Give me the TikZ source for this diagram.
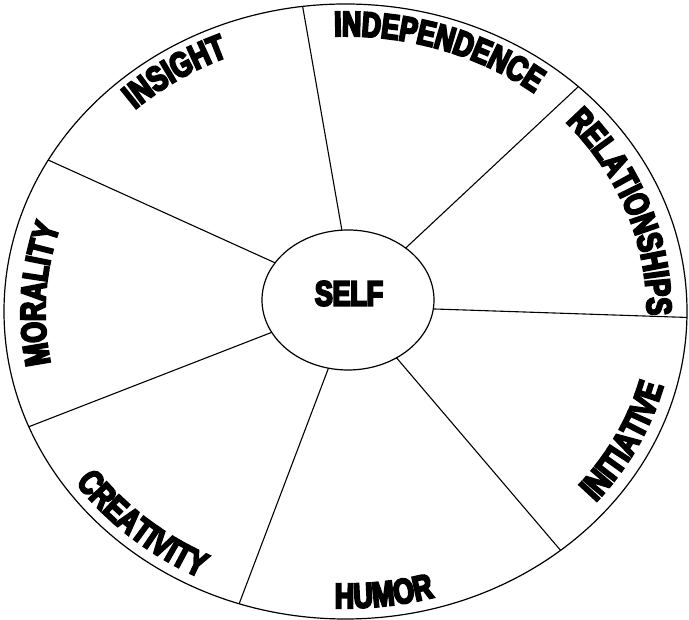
\documentclass[tikz,border=0pt]{standalone}
\usepackage{fontspec}
\usetikzlibrary{shapes.geometric,decorations.text,calc}
\newfontfamily\lblfont{Liberation Sans Bold}[FakeBold=6,FakeStretch=0.76]
\newcommand{\lbl}{\lblfont\fontsize{35}{35}\selectfont}

\begin{document}
\begin{tikzpicture}[x=1pt,y=1pt,
  wheel/.style={draw, ellipse, line width=1.2pt, inner sep=0pt, outer sep=0pt},
  spoke/.style={draw, line width=1.1pt},
  arclabel/.style={decorate, decoration={text along path, text align=center, text={#1}}}
]
\useasboundingbox (0,0) rectangle (689,620);
\node[wheel, minimum width=683pt, minimum height=615pt] (outer) at (345.5,308.5) {};
\node[wheel, minimum width=172pt, minimum height=140pt] (inner) at (348,320) {};
\node[inner sep=0pt] (selflabel) at (349,326.5) {\lbl SELF};

% spokes
\draw[spoke] (inner.95.7) -- (outer.98.5);
\draw[spoke] (inner.42.5) -- (outer.44.1);
\draw[spoke] (inner.-6.6) -- (outer.-1.8);
\draw[spoke] (inner.-50.3) -- (outer.-48.5);
\draw[spoke] (inner.254.8) -- (outer.250.9);
\draw[spoke] (inner.203.4) -- (outer.200.5);
\draw[spoke] (inner.153.6) -- (outer.153.4);

% top labels (clockwise, tops outward)
\path[arclabel={|\lbl|INDEPENDENCE}]
  ($(outer.center)+(101:309.5pt and 275.5pt)$) arc[start angle=101, end angle=43, x radius=309.5pt, y radius=275.5pt];
\path[arclabel={|\lbl|INSIGHT}]
  ($(outer.center)+(148:309.5pt and 275.5pt)$) arc[start angle=148, end angle=98, x radius=309.5pt, y radius=275.5pt];
\path[arclabel={|\lbl|RELATIONSHIPS}]
  ($(outer.center)+(50:301.5pt and 277.5pt)$) arc[start angle=50, end angle=-8, x radius=301.5pt, y radius=277.5pt];
\path[arclabel={|\lbl|MORALITY}]
  ($(outer.center)+(206.5:300.5pt and 272.5pt)$) arc[start angle=206.5, end angle=146.5, x radius=300.5pt, y radius=272.5pt];

% bottom labels (counterclockwise, tops inward)
\path[arclabel={|\lbl|CREATIVITY}]
  ($(outer.center)+(199:330.5pt and 296.5pt)$) arc[start angle=199, end angle=259, x radius=330.5pt, y radius=296.5pt];
\path[arclabel={|\lbl|HUMOR}]
  ($(outer.center)+(252:330.5pt and 296.5pt)$) arc[start angle=252, end angle=302, x radius=330.5pt, y radius=296.5pt];
\path[arclabel={|\lbl|INITIATIVE}]
  ($(outer.center)+(303:328.5pt and 294.5pt)$) arc[start angle=303, end angle=363, x radius=328.5pt, y radius=294.5pt];
\end{tikzpicture}
\end{document}
